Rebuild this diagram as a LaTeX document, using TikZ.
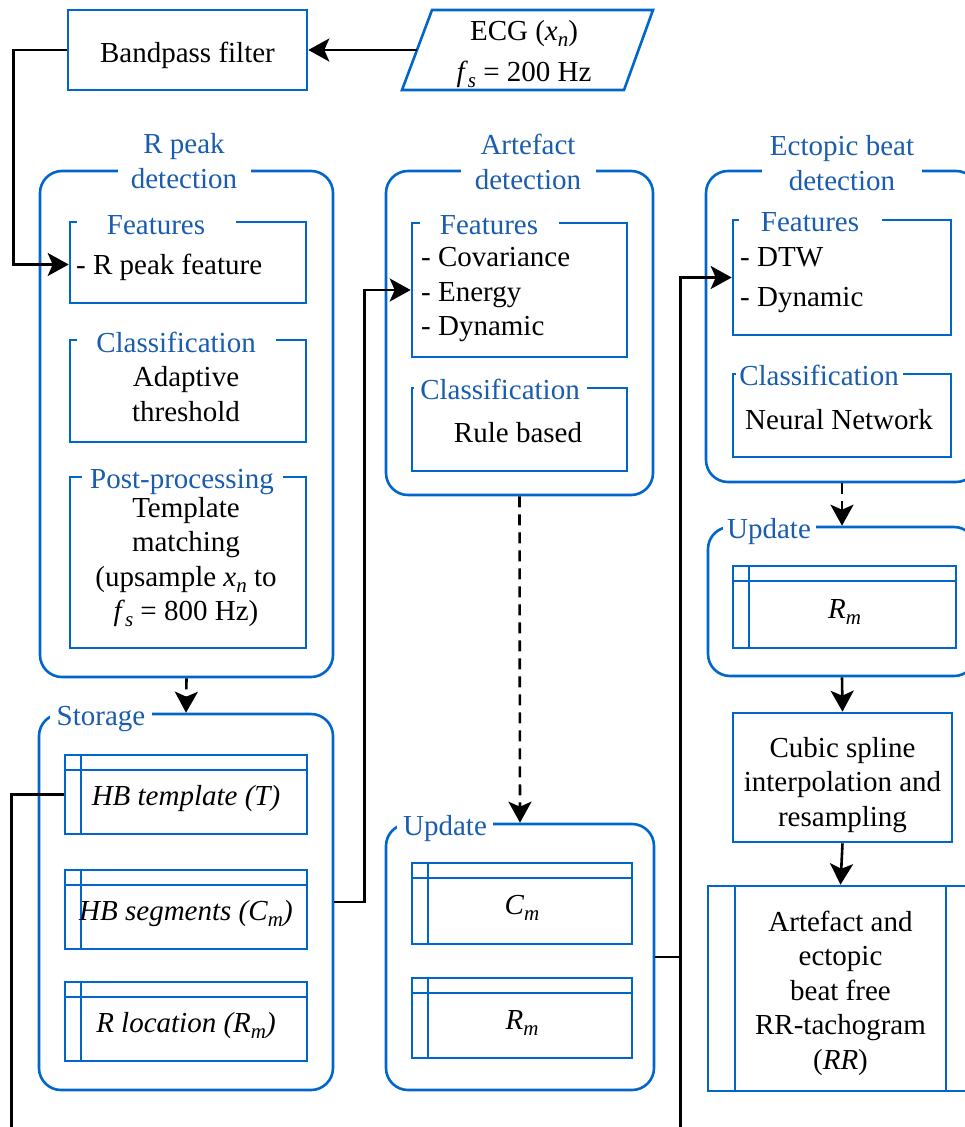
\documentclass[tikz,border=0pt]{standalone}
\usepackage{fontspec}
\setmainfont{Liberation Serif}
\usetikzlibrary{arrows.meta,fit}
\definecolor{lb}{HTML}{0066CC}
\definecolor{tb}{HTML}{1A5CAE}
\newcommand\isub[2]{\textit{#1}\raisebox{-6pt}{\fontsize{21}{21}\selectfont\textit{#2}}}
\newcommand\ssub[1]{\raisebox{-6pt}{\fontsize{21}{21}\selectfont\textit{#1}}}
\begin{document}
\begin{tikzpicture}[x=1pt,y=-1pt,
  every node/.style={font=\fontsize{29}{34.5}\selectfont},
  grp/.style={draw=lb,line width=2.6pt,rounded corners=22pt,inner sep=0pt},
  sub/.style={draw=lb,line width=2.6pt,inner sep=0pt},
  ttl/.style={fill=white,text=tb,inner sep=0pt,align=center},
  ttl1/.style={ttl,text height=24pt,text depth=2pt},
  txt/.style={inner sep=0pt,align=center},
  lst/.style={inner sep=0pt,align=left,anchor=west},
  store/.style={sub,text height=26pt,text depth=4pt,path picture={
    \draw[lb,line width=2.6pt]
      ([xshift=16pt]path picture bounding box.north west) -- ([xshift=16pt]path picture bounding box.south west)
      ([yshift=-15pt]path picture bounding box.north west) -- ([yshift=-15pt]path picture bounding box.north east);}},
  proc/.style={sub,path picture={
    \draw[lb,line width=2.6pt]
      ([xshift=27pt]path picture bounding box.north west) -- ([xshift=27pt]path picture bounding box.south west)
      ([xshift=-27pt]path picture bounding box.north east) -- ([xshift=-27pt]path picture bounding box.south east);}},
  conn/.style={line width=2.6pt,-{Stealth[length=21pt,width=23pt,inset=5pt]}},
  dconn/.style={conn,dash pattern=on 11pt off 7pt},
  wire/.style={line width=2.6pt}]
\useasboundingbox (0,0) rectangle (964,1127);

% input and filter
\node[sub,minimum width=239pt,minimum height=80pt,text height=27pt,text depth=3pt] (bp) at (187.5,50) {Bandpass filter};
\draw[lb,line width=2.6pt] (402,90) -- (432,10) -- (653,10) -- (624,90) -- cycle;
\node[txt] (ecg) at (524,54) {ECG (\isub{x}{n})\\[6pt]\isub{f}{s} = 200 Hz};
\coordinate (ecgL) at (417,50);

% R peak detection
\node[grp,fit={(40,171)(333,677)}] (rpk) {};
\node[ttl,minimum width=133pt] (rpkt) at (184,161) {R peak\\detection};
\node[sub,fit={(70,222)(306,303)}] (rf) {};
\node[ttl1,minimum width=159pt] (rft) at (156,223) {Features};
\node[lst] (rfc) at (76,267) {- R peak feature};
\node[sub,fit={(70,340)(306,442)}] (rc) {};
\node[ttl1,minimum width=199pt] (rct) at (176,341) {Classification};
\node[txt] (rcc) at (186,394) {Adaptive\\threshold};
\node[sub,fit={(70,477)(306,648)}] (rp) {};
\node[ttl1,minimum width=201pt] (rpt) at (182,477) {Post-processing};
\node[txt] (rpc) at (186,562) {Template\\matching\\(upsample \isub{x}{n} to\\\isub{f}{s} = 800 Hz)};

% Storage
\node[grp,fit={(39,714)(333,1090)}] (stor) {};
\node[ttl1,minimum width=102pt] (stort) at (101,714) {Storage};
\node[store,minimum width=242pt,minimum height=79pt] (t1) at (186,794.5) {\textit{HB template (T)}};
\node[store,minimum width=242pt,minimum height=79pt] (t2) at (186,909.5) {\textit{HB segments (C}\ssub{m}\textit{)}};
\node[store,minimum width=242pt,minimum height=79pt] (t3) at (186,1021.5) {\textit{R location (R}\ssub{m}\textit{)}};

% Artefact detection
\node[grp,fit={(386,171)(653,495)}] (art) {};
\node[ttl,minimum width=135pt] (artt) at (528,162) {Artefact\\detection};
\node[sub,fit={(412,223)(627,357)}] (af) {};
\node[ttl1,minimum width=139pt] (aft) at (489,223) {Features};
\node[lst] (afc) at (421,295) {- Covariance\\- Energy\\- Dynamic};
\node[sub,fit={(412,388)(627,471)}] (ac) {};
\node[ttl1,minimum width=173pt] (act) at (500,388) {Classification};
\node[txt] (acc) at (518,433) {Rule based};

% Update (artefact)
\node[grp,fit={(386,824)(654,1090)}] (ua) {};
\node[ttl1,minimum width=96pt] (uat) at (445,824) {Update};
\node[store,minimum width=220pt,minimum height=81pt] (uc) at (522,903.5) {\isub{C}{m}};
\node[store,minimum width=220pt,minimum height=80pt] (ur) at (522,1018) {\isub{R}{m}};

% Ectopic beat detection
\node[grp,fit={(706,171)(978,482)}] (ect) {};
\node[ttl,minimum width=160pt] (ectt) at (842,163) {Ectopic beat\\detection};
\node[sub,fit={(733,220)(951,335)}] (ef) {};
\node[ttl1,minimum width=143pt] (eft) at (810,220) {Features};
\node[lst] (efc) at (740,280) {- DTW\\[5pt]- Dynamic};
\node[sub,fit={(733,374)(951,457)}] (ec) {};
\node[ttl1,minimum width=167pt] (ect2) at (819,374) {Classification};
\node[txt] (ecc) at (839,420) {Neural Network};

% Update (ectopic)
\node[grp,fit={(708,527)(976,676)}] (ue) {};
\node[ttl1,minimum width=93pt] (uet) at (769,527) {Update};
\node[store,minimum width=223pt,minimum height=82pt] (er) at (844.5,607) {\isub{R}{m}};

% Cubic spline and output
\node[sub,minimum width=219pt,minimum height=129pt] (cub) at (842.5,777.5) {};
\node[txt] (cubt) at (842.5,785) {Cubic spline\\interpolation and\\resampling};
\node[proc,minimum width=265pt,minimum height=205pt] (out) at (840.5,988.5) {};
\node[txt] (outt) at (840.5,993) {Artefact and\\ectopic\\beat free\\RR-tachogram\\(\textit{RR})};

% connectors
\draw[conn] (ecgL) -- (bp.east);
\draw[conn] (bp.west) -- ++(-53,0) |- ([yshift=-2pt]rf.west);
\draw[dconn] (rpk.south) -- (stor.north);
\draw[conn] (stor.east) -- ++(30,0) |- (af.west);
\draw[dconn] (art.south) -- (ua.north);
\path (ua.east) -- ++(25,0) coordinate (jA);
\draw[conn] (ua.east) -- (jA) |- (ef.west);
\draw[wire] (jA) -- (jA |- 0,1135);
\path (t1.west) -- ++(-52,0) coordinate (jB);
\draw[wire] (t1.west) -- (jB) -- (jB |- 0,1135);
\draw[dconn] (ect.south) -- (ue.north);
\draw[conn] (ue.south) -- (cub.north);
\draw[conn] (cub.south) -- (out.north);
\end{tikzpicture}
\end{document}
